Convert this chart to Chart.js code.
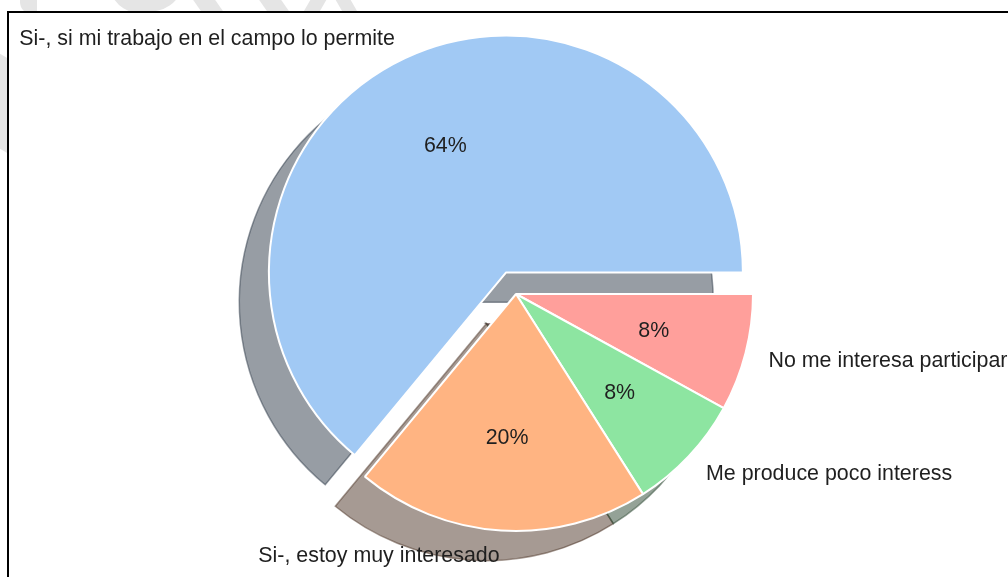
<!DOCTYPE html>
<html>
<head>
<meta charset="utf-8">
<script src="https://cdn.jsdelivr.net/npm/chart.js@4.4.0/dist/chart.umd.min.js"></script>
<style>
html, body { margin: 0; padding: 0; background: #fff; overflow: hidden; }
#wrap { position: relative; width: 1008px; height: 577px; overflow: hidden; background: #fff; }
.wm { position: absolute; background: #e5e5e5; }
#frame { position: absolute; left: 7px; top: 11px; width: 1020px; height: 600px; border-left: 2px solid #000; border-top: 2px solid #000; background: #fff; }
#myChart { position: absolute; left: 0; top: 0; }
</style>
</head>
<body>
<div id="wrap">
  <!-- faint watermark bits showing outside the frame -->
  <div class="wm" style="left:20px;top:-6px;width:17px;height:20px;border-radius:0 0 0 12px;"></div>
  <div class="wm" style="left:112px;top:-20px;width:75px;height:32px;border-radius:0 0 40px 40px;transform:rotate(-12deg);"></div>
  <div class="wm" style="left:196px;top:-6px;width:22px;height:20px;transform:skewX(35deg);"></div>
  <div class="wm" style="left:262px;top:-6px;width:22px;height:20px;transform:skewX(35deg);"></div>
  <div class="wm" style="left:308px;top:-6px;width:16px;height:20px;transform:skewX(-30deg);"></div>
  <div class="wm" style="left:338px;top:-6px;width:15px;height:20px;transform:skewX(30deg);"></div>
  <div class="wm" style="left:-4px;top:55px;width:12px;height:95px;transform:skewY(30deg);"></div>
  <div id="frame"></div>
  <canvas id="myChart" width="1008" height="577"></canvas>
</div>
<script>
// data, in the order the slices go round (counter-clockwise from 3 o'clock)
var labels = ["Si-, si mi trabajo en el campo lo permite", "Si-, estoy muy interesado", "Me produce poco interess", "No me interesa participar"];
var values = [64, 20, 8, 8];
var colors = ["#a1c9f4", "#ffb482", "#8de5a1", "#ff9f9b"];
var explode = [0.1, 0, 0, 0];

// Chart.js goes clockwise, so flip the order
var cLabels = labels.slice().reverse();
var cValues = values.slice().reverse();
var cColors = colors.slice().reverse();
var cExplode = explode.slice().reverse();

var total = values.reduce(function(a, b){ return a + b; }, 0);

function shadowColor(hex){
    var n = parseInt(hex.slice(1), 16);
    var r = (n >> 16) & 255, g = (n >> 8) & 255, b = n & 255;
    return "rgba(" + Math.round(r*0.3) + "," + Math.round(g*0.3) + "," + Math.round(b*0.3) + ",0.5)";
}

var pieExtras = {
    id: 'pieExtras',
    afterDatasetsUpdate: function(chart){
        var arcs = chart.getDatasetMeta(0).data;
        arcs.forEach(function(arc, i){
            var e = cExplode[i] * arc.outerRadius;
            if(!e) return;
            var mid = (arc.startAngle + arc.endAngle) / 2;
            arc.x += Math.cos(mid) * e;
            arc.y += Math.sin(mid) * e;
        });
    },
    beforeDatasetsDraw: function(chart){
        var ctx = chart.ctx;
        var arcs = chart.getDatasetMeta(0).data;
        // shadows go under every wedge, in the original drawing order
        for(var i = arcs.length - 1; i >= 0; i--){
            var arc = arcs[i];
            var off = 0.125 * arc.outerRadius;
            var col = shadowColor(cColors[i]);
            ctx.save();
            ctx.beginPath();
            ctx.moveTo(arc.x - off, arc.y + off);
            ctx.arc(arc.x - off, arc.y + off, arc.outerRadius, arc.startAngle, arc.endAngle);
            ctx.closePath();
            ctx.fillStyle = col;
            ctx.fill();
            ctx.lineWidth = 1.5;
            ctx.strokeStyle = col;
            ctx.stroke();
            ctx.restore();
        }
    },
    afterDatasetsDraw: function(chart){
        var ctx = chart.ctx;
        var arcs = chart.getDatasetMeta(0).data;
        ctx.save();
        ctx.font = '21.4px "Liberation Sans", Arial, sans-serif';
        ctx.fillStyle = '#1f1f1f';
        ctx.textBaseline = 'middle';
        arcs.forEach(function(arc, i){
            var mid = (arc.startAngle + arc.endAngle) / 2;
            var r = arc.outerRadius;
            var c = Math.cos(mid), s = Math.sin(mid);
            ctx.textAlign = c > 0 ? 'left' : 'right';
            ctx.fillText(cLabels[i], arc.x + 1.1 * r * c, arc.y + 1.1 * r * s + 2);
            ctx.textAlign = 'center';
            ctx.fillText(Math.round(cValues[i] / total * 100) + '%', arc.x + 0.6 * r * c, arc.y + 0.6 * r * s + 2);
        });
        ctx.restore();
    }
};

var ctx = document.getElementById("myChart").getContext('2d');
var myChart = new Chart(ctx, {
    type: 'pie',
    data: {
        labels: cLabels,
        datasets: [{
            data: cValues,
            backgroundColor: cColors,
            borderColor: '#ffffff',
            borderWidth: 2,
            clip: false
        }]
    },
    options: {
        responsive: false,
        animation: false,
        events: [],
        rotation: 90,
        layout: { padding: { left: 116, right: 92, top: 56, bottom: 45 } },
        plugins: {
            legend: { display: false },
            tooltip: { enabled: false }
        }
    },
    plugins: [pieExtras]
});
</script>
</body>
</html>
